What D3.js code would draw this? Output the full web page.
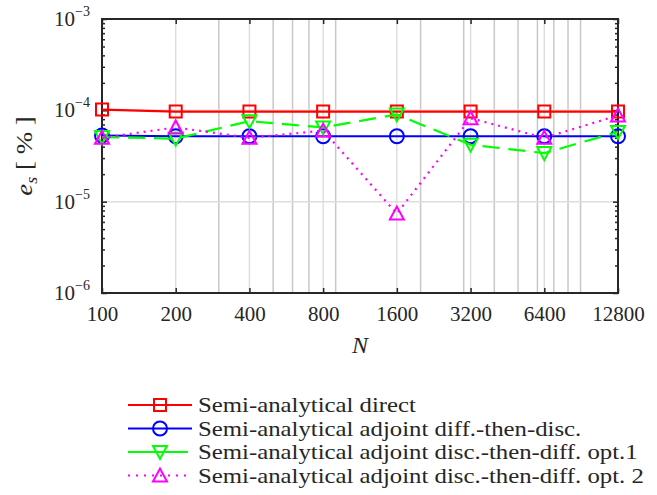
<!doctype html>
<html lang="en">
<head>
  <meta charset="utf-8">
  <script src="https://d3js.org/d3.v7.min.js"></script>
  <title>e_s versus N</title>
  <style type="text/css">
    html, body { margin: 0; padding: 0; background: #fff; }
    svg { display: block; }
    text { font-family: "Liberation Serif", "DejaVu Serif", serif; fill: #262626; }
  </style>
</head>
<body>
<script>
  // values
  var nValues = [100, 200, 400, 800, 1600, 3200, 6400, 12800];
  var semiDirect = [1.02e-4, 0.97e-4, 0.97e-4, 0.97e-4, 0.97e-4, 0.97e-4, 0.97e-4, 0.97e-4];
  var adjDiffThenDisc = [5.3e-5, 5.2e-5, 5.2e-5, 5.2e-5, 5.2e-5, 5.2e-5, 5.2e-5, 5.2e-5];
  var adjDiscOpt1 = [5.1e-5, 4.9e-5, 7.6e-5, 6.5e-5, 9.0e-5, 4.2e-5, 3.4e-5, 5.8e-5];
  var adjDiscOpt2 = [5.0e-5, 6.5e-5, 5.0e-5, 6.0e-5, 7.4e-6, 8.2e-5, 5.0e-5, 8.8e-5];
  var seriesNames = ["Semi-analytical direct", "Semi-analytical adjoint diff.-then-disc.",
    "Semi-analytical adjoint disc.-then-diff. opt.1", "Semi-analytical adjoint disc.-then-diff. opt. 2"];
  var yTickExps = [-3, -4, -5, -6];

  var W = 657, H = 495;
  var margin = { top: 19, right: 39, bottom: 202, left: 102 };
  var width = W - margin.left - margin.right,
    height = H - margin.top - margin.bottom;

  var svg = d3.select("body").append("svg")
    .attr("width", W)
    .attr("height", H);

  var g = svg.append("g")
    .attr("transform", "translate(" + margin.left + "," + margin.top + ")");

  var x = d3.scaleLog().base(2).domain([100, 12800]).range([0, width]);
  var y = d3.scaleLog().domain([1e-6, 1e-3]).range([height, 0]);

  // minor grid (2..9 x 100, 2..9 x 1000), skipping the labelled ticks
  var minorX = [];
  [100, 1000].forEach(function(d) {
    for (var k = 2; k <= 9; k++) minorX.push(k * d);
  });
  minorX = minorX.filter(function(v) { return nValues.indexOf(v) < 0; });

  g.append("g").selectAll("line")
    .data(minorX)
    .enter().append("line")
    .attr("x1", function(d) { return x(d); })
    .attr("x2", function(d) { return x(d); })
    .attr("y1", 0).attr("y2", height)
    .style("stroke", "#c8c8c8").style("stroke-width", 1.5);

  // major grid
  g.append("g").selectAll("line")
    .data(nValues.slice(1, -1))
    .enter().append("line")
    .attr("x1", function(d) { return x(d); })
    .attr("x2", function(d) { return x(d); })
    .attr("y1", 0).attr("y2", height)
    .style("stroke", "#dedede").style("stroke-width", 1.5);

  g.append("g").selectAll("line")
    .data([1e-4, 1e-5])
    .enter().append("line")
    .attr("x1", 0).attr("x2", width)
    .attr("y1", function(d) { return y(d); })
    .attr("y2", function(d) { return y(d); })
    .style("stroke", "#dedede").style("stroke-width", 1.5);

  // axes
  var axisColor = "#262626";
  var xBottom = g.append("g")
    .attr("transform", "translate(0," + height + ")")
    .call(d3.axisBottom(x).tickValues(nValues).tickSizeInner(-5).tickSizeOuter(0).tickPadding(13)
      .tickFormat(d3.format("d")));
  var xTop = g.append("g")
    .call(d3.axisTop(x).tickValues(nValues).tickSizeInner(-5).tickSizeOuter(0).tickFormat(""));

  var yMinor = [];
  [1e-6, 1e-5, 1e-4].forEach(function(d) {
    for (var k = 2; k <= 9; k++) yMinor.push(k * d);
  });
  var yLeftMinor = g.append("g")
    .call(d3.axisLeft(y).tickValues(yMinor).tickSizeInner(-3).tickSizeOuter(0).tickFormat(""));
  var yRightMinor = g.append("g")
    .attr("transform", "translate(" + width + ",0)")
    .call(d3.axisRight(y).tickValues(yMinor).tickSizeInner(-3).tickSizeOuter(0).tickFormat(""));
  var yLeft = g.append("g")
    .call(d3.axisLeft(y).tickValues(yTickExps.map(function(e) { return Math.pow(10, e); }))
      .tickSizeInner(-5).tickSizeOuter(0).tickFormat(""));
  var yRight = g.append("g")
    .attr("transform", "translate(" + width + ",0)")
    .call(d3.axisRight(y).tickValues(yTickExps.map(function(e) { return Math.pow(10, e); }))
      .tickSizeInner(-5).tickSizeOuter(0).tickFormat(""));

  [xBottom, xTop, yLeftMinor, yRightMinor, yLeft, yRight].forEach(function(a) {
    a.select(".domain").remove();
    a.selectAll("line").style("stroke", axisColor).style("stroke-width", 1.5);
  });
  xBottom.selectAll("text")
    .style("font-family", "'Liberation Serif', serif")
    .style("font-size", "21px")
    .style("fill", axisColor);

  // y tick labels 10^k
  var yLab = g.append("g").selectAll("text")
    .data(yTickExps)
    .enter().append("text")
    .attr("x", -12)
    .attr("y", function(d) { return y(Math.pow(10, d)) + 7; })
    .attr("text-anchor", "end")
    .style("font-size", "21px");
  yLab.append("tspan").text("10");
  yLab.append("tspan")
    .attr("dy", -10)
    .style("font-size", "14px")
    .text(function(d) { return "\u2212" + Math.abs(d); });

  // box
  g.append("rect")
    .attr("width", width).attr("height", height)
    .style("fill", "none").style("stroke", axisColor).style("stroke-width", 2);

  // axis titles
  g.append("text")
    .attr("x", width / 2)
    .attr("y", height + 60)
    .attr("text-anchor", "middle")
    .style("font-size", "24px")
    .style("font-style", "italic")
    .text("N");

  var yTitle = svg.append("text")
    .attr("transform", "translate(32," + (margin.top + height / 2) + ") rotate(-90) scale(1.12,1)")
    .attr("text-anchor", "middle")
    .style("font-size", "24px");
  yTitle.append("tspan").style("font-style", "italic").text("e");
  yTitle.append("tspan").attr("dy", 5).style("font-size", "16px").style("font-style", "italic").text("s");
  yTitle.append("tspan").attr("dy", -5).text(" [ % ]");

  // series
  var series = [
    { name: seriesNames[0], values: semiDirect, color: "#ff0000", dash: null, marker: "square" },
    { name: seriesNames[1], values: adjDiffThenDisc, color: "#0000ff", dash: null, marker: "circle" },
    { name: seriesNames[2], values: adjDiscOpt1, color: "#00ff00", dash: "17,9", marker: "down" },
    { name: seriesNames[3], values: adjDiscOpt2, color: "#ff00ff", dash: "2,5", marker: "up" }
  ];

  function markerPath(type) {
    if (type === "square") return "M-6,-6H6V6H-6Z";
    if (type === "down") return "M-7,-6H7L0,7Z";
    if (type === "up") return "M-7,6H7L0,-7Z";
    return null;
  }

  function drawMarker(sel, s) {
    if (s.marker === "circle") {
      sel.append("circle").attr("r", 7);
    } else {
      sel.append("path").attr("d", markerPath(s.marker));
    }
    sel.selectAll("circle, path")
      .style("fill", "none")
      .style("stroke", s.color)
      .style("stroke-width", 2);
  }

  var line = d3.line()
    .x(function(d, i) { return x(nValues[i]); })
    .y(function(d) { return y(d); });

  series.forEach(function(s) {
    var sg = g.append("g");
    sg.append("path")
      .datum(s.values)
      .attr("d", line)
      .style("fill", "none")
      .style("stroke", s.color)
      .style("stroke-width", 2.2)
      .style("stroke-dasharray", s.dash);
    sg.selectAll("g.pt")
      .data(s.values)
      .enter().append("g")
      .attr("class", "pt")
      .attr("transform", function(d, i) { return "translate(" + x(nValues[i]) + "," + y(d) + ")"; })
      .each(function() { drawMarker(d3.select(this), s); });
  });

  // legend
  var legend = svg.append("g").attr("transform", "translate(128,405)");
  series.forEach(function(s, i) {
    var row = legend.append("g").attr("transform", "translate(0," + (i * 23.5) + ")");
    row.append("line")
      .attr("x1", 0).attr("x2", i === 2 ? 60 : 64)
      .style("stroke", s.color)
      .style("stroke-width", 2.2)
      .style("stroke-dasharray", i === 3 ? "2,6" : null);
    var m = row.append("g").attr("transform", "translate(32,0)");
    drawMarker(m, s);
    row.append("text")
      .attr("transform", "translate(70,7) scale(1.18,1)")
      .style("font-size", "21px")
      .text(s.name);
  });
</script>
</body>
</html>
